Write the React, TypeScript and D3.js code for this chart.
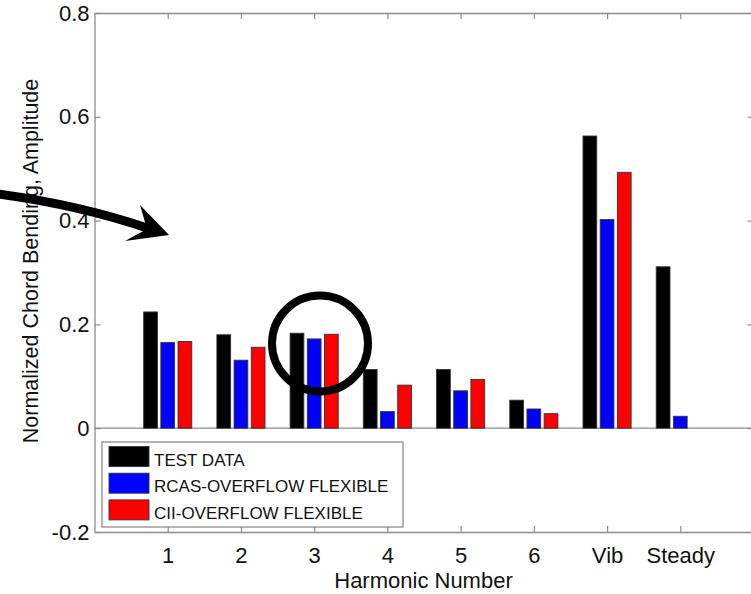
import React, { useRef, useEffect } from 'react';
import * as d3 from 'd3';

// harmonic groups along the x axis
const categories = ['1', '2', '3', '4', '5', '6', 'Vib', 'Steady'];
const seriesNames = ['TEST DATA', 'RCAS-OVERFLOW FLEXIBLE', 'CII-OVERFLOW FLEXIBLE'];
const seriesColors = ['#000000', '#0000ff', '#ff0000'];

const testData = [0.224, 0.180, 0.183, 0.113, 0.113, 0.054, 0.563, 0.311];
const rcasData = [0.165, 0.131, 0.172, 0.032, 0.072, 0.037, 0.402, 0.023];
const ciiData = [0.167, 0.156, 0.181, 0.083, 0.094, 0.028, 0.493, 0];

const yTicks = [-0.2, 0, 0.2, 0.4, 0.6, 0.8];
const yTickLabels = ['-0.2', '0', '0.2', '0.4', '0.6', '0.8'];

const W = 751;
const H = 594;

export default function App() {
  const svgRef = useRef<SVGSVGElement>(null);

  useEffect(() => {
    const svg = d3.select(svgRef.current);
    svg.selectAll('*').remove();

    const font = "'Liberation Sans', Arial, Helvetica, sans-serif";
    const axisGray = '#8c8c8c';

    const x = d3.scaleLinear().domain([0, 9]).range([94.5, 753.5]);
    const y = d3.scaleLinear().domain([-0.2, 0.8]).range([532, 13]);

    // sub-band for the three bars within a group (in x data units)
    const sub = d3.scaleBand<string>()
      .domain(seriesNames)
      .range([-0.352, 0.352])
      .paddingInner(0.2)
      .paddingOuter(0.1);

    const series = [testData, rcasData, ciiData];

    // zero baseline
    svg.append('line')
      .attr('x1', x(0)).attr('x2', x(9))
      .attr('y1', y(0)).attr('y2', y(0))
      .attr('stroke', axisGray).attr('stroke-width', 1.2);

    // bars
    series.forEach((vals, si) => {
      svg.append('g')
        .selectAll('rect')
        .data(vals)
        .join('rect')
        .attr('x', (d, i) => x(i + 1 + (sub(seriesNames[si]) as number)))
        .attr('width', x(sub.bandwidth()) - x(0))
        .attr('y', d => y(Math.max(0, d)))
        .attr('height', d => Math.abs(y(d) - y(0)))
        .attr('fill', seriesColors[si])
        .attr('stroke', '#333')
        .attr('stroke-width', 0.9)
        .attr('display', d => (d === 0 ? 'none' : null));
    });

    const styleAxis = (g: any) => {
      g.selectAll('.domain').attr('stroke', axisGray).attr('stroke-width', 1.3);
      g.selectAll('.tick line').attr('stroke', axisGray).attr('stroke-width', 1.2);
      g.selectAll('text').attr('font-family', font).attr('font-size', 22).attr('fill', '#111');
    };

    const xTickVals = categories.map((_, i) => i + 1);

    svg.append('g')
      .attr('transform', `translate(0,${y(-0.2)})`)
      .call(d3.axisBottom(x).tickValues(xTickVals)
        .tickFormat((d: any) => categories[d - 1])
        .tickSizeInner(-6).tickSizeOuter(0).tickPadding(15))
      .call(styleAxis);

    svg.append('g')
      .attr('transform', `translate(0,${y(0.8)})`)
      .call(d3.axisTop(x).tickValues(xTickVals).tickFormat(() => '')
        .tickSizeInner(-6).tickSizeOuter(0))
      .call(styleAxis);

    svg.append('g')
      .attr('transform', `translate(${x(0)},0)`)
      .call(d3.axisLeft(y).tickValues(yTicks)
        .tickFormat((d: any) => yTickLabels[yTicks.indexOf(d)])
        .tickSizeInner(-6).tickSizeOuter(0).tickPadding(5))
      .call(styleAxis);

    svg.append('g')
      .attr('transform', `translate(${x(9)},0)`)
      .call(d3.axisRight(y).tickValues(yTicks).tickFormat(() => '')
        .tickSizeInner(-6).tickSizeOuter(0))
      .call(styleAxis);

    // axis titles
    svg.append('text')
      .attr('x', (x(0) + x(9)) / 2 - 0.5)
      .attr('y', 588)
      .attr('text-anchor', 'middle')
      .attr('font-family', font)
      .attr('font-size', 22)
      .attr('fill', '#111')
      .text('Harmonic Number');

    svg.append('text')
      .attr('transform', 'translate(38,261) rotate(-90)')
      .attr('text-anchor', 'middle')
      .attr('font-family', font)
      .attr('font-size', 21.5)
      .attr('fill', '#111')
      .text('Normalized Chord Bending, Amplitude');

    // legend
    const lg = svg.append('g').attr('transform', 'translate(102,442)');
    lg.append('rect')
      .attr('width', 301).attr('height', 85)
      .attr('fill', '#fff').attr('stroke', axisGray).attr('stroke-width', 1.3);
    seriesNames.forEach((name, i) => {
      const row = lg.append('g').attr('transform', `translate(7,${4.5 + i * 26.7})`);
      row.append('rect')
        .attr('width', 40).attr('height', 20)
        .attr('fill', seriesColors[i]).attr('stroke', '#333').attr('stroke-width', 0.9);
      row.append('text')
        .attr('x', 45).attr('y', 19)
        .attr('font-family', font).attr('font-size', 17).attr('fill', '#111')
        .text(name);
    });

    // overlay annotations (circle around group 3, curved arrow)
    svg.append('circle')
      .attr('cx', 320).attr('cy', 343.5).attr('r', 48)
      .attr('fill', 'none').attr('stroke', '#000').attr('stroke-width', 8);

    svg.append('path')
      .attr('d', 'M -2 194 Q 80 205 150 229')
      .attr('fill', 'none').attr('stroke', '#000').attr('stroke-width', 9);
    svg.append('path')
      .attr('d', 'M 169 235 L 140 205 L 147 229 L 125 241 Z')
      .attr('fill', '#000');
  }, []);

  return (
    <div style={{ position: 'absolute', left: 0, top: 0 }}>
      <svg ref={svgRef} width={W} height={H} style={{ display: 'block', background: '#fff' }} />
    </div>
  );
}
